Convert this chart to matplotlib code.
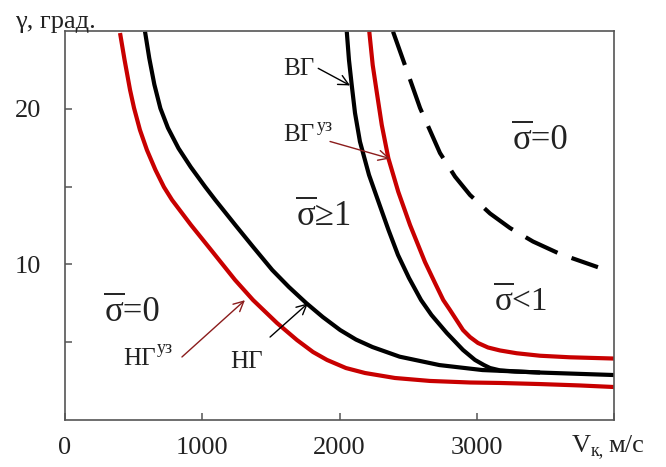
import matplotlib
matplotlib.use('Agg')
import matplotlib.pyplot as plt
from matplotlib.transforms import Affine2D, ScaledTranslation

# ---------------- data ----------------
# НГ^уз (red, lower-left boundary)
ng_uz_x = [401, 434, 474, 503, 546, 597, 659, 721, 780, 918, 1064, 1239, 1370, 1545,
           1690, 1807, 1909, 2047, 2186, 2404, 2659, 2951, 3169, 3461, 3752, 4000]
ng_uz_y = [24.87, 23.14, 21.21, 20.05, 18.64, 17.35, 16.07, 14.97, 14.14, 12.53, 10.93, 9.0, 7.71, 6.23,
           5.14, 4.37, 3.86, 3.34, 3.02, 2.70, 2.51, 2.41, 2.38, 2.31, 2.22, 2.12]

# НГ (black, lower-left boundary)
ng_x = [583, 614, 651, 695, 750, 827, 916, 1021, 1095, 1241, 1371, 1510, 1631, 1757,
        1878, 2005, 2120, 2240, 2438, 2728, 3041, 3461, 4000]
ng_y = [24.96, 23.25, 21.56, 20.03, 18.77, 17.46, 16.26, 14.99, 14.14, 12.53, 11.12, 9.64, 8.55, 7.52,
        6.62, 5.78, 5.17, 4.69, 4.07, 3.53, 3.21, 3.05, 2.89]

# ВГ (black, steep upper boundary)
vg_x = [2053, 2069, 2089, 2113, 2149, 2215, 2295, 2357, 2426, 2506, 2594, 2670, 2782,
        2900, 2987, 3053, 3097, 3169, 3279, 3461]
vg_y = [24.96, 23.14, 21.53, 19.73, 17.89, 15.75, 13.75, 12.21, 10.61, 9.13, 7.71, 6.75, 5.59,
        4.50, 3.86, 3.53, 3.34, 3.19, 3.12, 3.05]

# ВГ^уз (red, steep upper boundary)
vg_uz_x = [2217, 2242, 2271, 2308, 2356, 2428, 2514, 2623, 2696, 2756, 2805, 2900, 2951,
           3009, 3082, 3169, 3291, 3461, 3679, 4000]
vg_uz_y = [24.96, 22.81, 21.10, 18.96, 16.82, 14.67, 12.53, 10.15, 8.80, 7.71, 7.07, 5.78, 5.33,
           4.95, 4.66, 4.47, 4.29, 4.13, 4.03, 3.95]

# dashed boundary (sigma = 0, upper right)
dash_x = [2390, 2488, 2587, 2732, 2842, 2951, 3097, 3242, 3410, 3607, 3883]
dash_y = [24.96, 22.53, 20.05, 17.16, 15.64, 14.46, 13.27, 12.34, 11.47, 10.67, 9.82]

x_ticks = [0, 1000, 2000, 3000, 4000]
x_tick_labels = ['0', '1000', '2000', '3000', '']
y_ticks = [5, 10, 15, 20]
y_tick_labels = ['', '10', '', '20']

# ---------------- style ----------------
FONT = ['Liberation Serif', 'DejaVu Serif']
plt.rcParams['font.family'] = FONT
RED = '#C80000'
ARROW_RED = '#8B1C1C'
SPINE = '#555555'
TXT = '#222222'

fig = plt.figure(figsize=(6.66, 4.67), dpi=100)
ax = fig.add_axes([65 / 666, 47 / 467, 549 / 666, 389 / 467])
ax.set_xlim(0, 4000)
ax.set_ylim(0, 25)

lw = 3.0
ax.plot(ng_uz_x, ng_uz_y, color=RED, lw=lw, solid_capstyle='butt', solid_joinstyle='round')
ax.plot(vg_uz_x, vg_uz_y, color=RED, lw=lw, solid_capstyle='butt', solid_joinstyle='round')
ax.plot(ng_x, ng_y, color='black', lw=lw, solid_capstyle='butt', solid_joinstyle='round')
ax.plot(vg_x, vg_y, color='black', lw=lw, solid_capstyle='butt', solid_joinstyle='round')
ax.plot(dash_x, dash_y, color='black', lw=lw, dashes=(8.5, 3.6), dash_joinstyle='round')

for s in ax.spines.values():
    s.set_color(SPINE)
    s.set_linewidth(1.2)

ax.set_xticks(x_ticks)
ax.set_xticklabels(x_tick_labels)
ax.set_yticks(y_ticks)
ax.set_yticklabels(y_tick_labels)
ax.tick_params(axis='both', direction='in', length=5, width=1.1, color=SPINE,
               labelsize=19, labelcolor=TXT)
ax.tick_params(axis='x', pad=12)
ax.tick_params(axis='y', pad=17)

# axis titles
fig.text(15 / 666, 1 - 28 / 467, 'γ, град.', fontsize=19, color=TXT,
         ha='left', va='baseline')
fig.text(572 / 666, 1 - 452 / 467, 'V', fontsize=19, color=TXT, ha='left', va='baseline')
fig.text(591 / 666, 1 - 455 / 467, 'к,', fontsize=13, color=TXT, ha='left', va='baseline')
fig.text(608 / 666, 1 - 452 / 467, 'м/с', fontsize=19, color=TXT, ha='left', va='baseline')


def sigma_label(x, y, rest, fs=25):
    ax.text(x, y, 'σ' + rest, fontsize=fs, color=TXT, ha='left', va='baseline')
    tr = Affine2D().scale(fig.dpi / 72.0) + ScaledTranslation(x, y, ax.transData)
    ax.plot([-0.03 * fs, 0.58 * fs], [0.78 * fs, 0.78 * fs], color=TXT,
            lw=1.4, transform=tr, clip_on=False, solid_capstyle='butt')


sigma_label(3264, 17.4, '=0')
sigma_label(3133, 7.07, '<1', fs=24)
sigma_label(1688, 12.53, '≥1')
sigma_label(291, 6.38, '=0')

# curve labels
txt = dict(color=TXT, ha='left', va='baseline')
ax.text(1588, 22.17, 'ВГ', fontsize=18, **txt)
ax.text(1588, 17.9, 'ВГ', fontsize=18, **txt)
ax.text(1836, 18.55, 'уз', fontsize=13, **txt)
ax.text(423, 3.53, 'НГ', fontsize=18, **txt)
ax.text(670, 4.3, 'уз', fontsize=13, **txt)
ax.text(1202, 3.34, 'НГ', fontsize=18, **txt)


def arrow(start, end, color):
    ax.annotate('', xy=end, xytext=start,
                arrowprops=dict(arrowstyle='->', color=color, lw=1.0,
                                shrinkA=0, shrinkB=0, mutation_scale=18))


arrow((1845, 22.6), (2077, 21.5), 'black')
arrow((1931, 17.9), (2368, 16.8), ARROW_RED)
arrow((852, 4.05), (1311, 7.7), ARROW_RED)
arrow((1494, 5.33), (1770, 7.5), 'black')

fig.savefig('out.png', dpi=100)
